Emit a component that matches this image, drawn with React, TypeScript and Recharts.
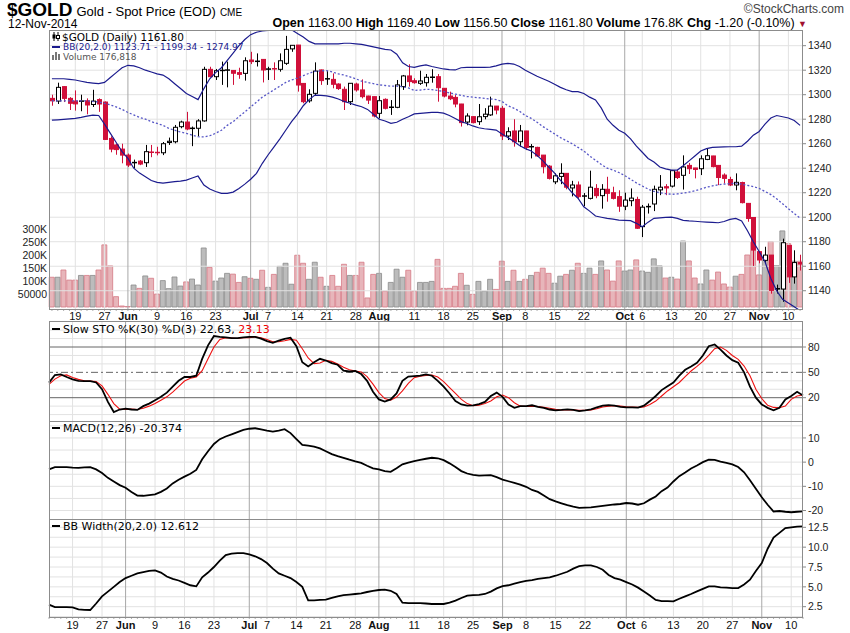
import React from 'react';
import { ComposedChart, Bar, Line, XAxis, YAxis, ReferenceLine, Cell } from 'recharts';

// trading days shown (US holidays skipped)
const mayDays = [13, 14, 15, 16, 19, 20, 21, 22, 23, 27, 28, 29, 30];
const junDays = [2, 3, 4, 5, 6, 9, 10, 11, 12, 13, 16, 17, 18, 19, 20, 23, 24, 25, 26, 27, 30];
const julDays = [1, 2, 3, 7, 8, 9, 10, 11, 14, 15, 16, 17, 18, 21, 22, 23, 24, 25, 28, 29, 30, 31];
const augDays = [1, 4, 5, 6, 7, 8, 11, 12, 13, 14, 15, 18, 19, 20, 21, 22, 25, 26, 27, 28, 29];
const sepDays = [2, 3, 4, 5, 8, 9, 10, 11, 12, 15, 16, 17, 18, 19, 22, 23, 24, 25, 26, 29, 30];
const octDays = [1, 2, 3, 6, 7, 8, 9, 10, 13, 14, 15, 16, 17, 20, 21, 22, 23, 24, 27, 28, 29, 30, 31];
const novDays = [3, 4, 5, 6, 7, 10, 11, 12];

const weekTicks = ['May 19', 'May 27', 'Jun 2', 'Jun 9', 'Jun 16', 'Jun 23', 'Jul 1', 'Jul 7', 'Jul 14', 'Jul 21', 'Jul 28', 'Aug 1', 'Aug 11', 'Aug 18', 'Aug 25', 'Sep 2', 'Sep 8', 'Sep 15', 'Sep 22', 'Oct 1', 'Oct 6', 'Oct 13', 'Oct 20', 'Oct 27', 'Nov 3', 'Nov 10'];
const weekLabels = ['19', '27', 'Jun', '9', '16', '23', 'Jul', '7', '14', '21', '28', 'Aug', '11', '18', '25', 'Sep', '8', '15', '22', 'Oct', '6', '13', '20', '27', 'Nov', '10'];
const monthNames = ['Jun', 'Jul', 'Aug', 'Sep', 'Oct', 'Nov'];

const opens = [1297, 1294.8, 1306.6, 1297, 1294.8, 1295, 1295, 1292, 1296, 1294,
  1264.3, 1259, 1255.6, 1250.7, 1244.5, 1245.8, 1244.5, 1253.5, 1253.2, 1252.6,
  1261, 1261.6, 1273.9, 1277.7, 1272.5, 1272.6, 1278.6, 1320.7, 1314.7, 1319.6,
  1320, 1319.8, 1318, 1317.4, 1328.3, 1327, 1328.8, 1320.8, 1321.6, 1320.7,
  1325.6, 1337.4, 1340.5, 1309.2, 1295, 1301.1, 1320.2, 1312.8, 1312.5, 1308.7,
  1304.4, 1294.3, 1308.7, 1303.9, 1298.9, 1298.4, 1284.8, 1296.2, 1289.7, 1289.7,
  1306.6, 1315.3, 1311.4, 1309.3, 1309.8, 1314.2, 1314.7, 1305.2, 1298.9, 1297.8,
  1292.4, 1277.7, 1282.1, 1278, 1282.1, 1283.5, 1290.7, 1288.9, 1266.3, 1270.4,
  1261.6, 1270.4, 1257.5, 1257, 1250.7, 1241.7, 1228.9, 1233.3, 1235.8, 1223.9,
  1226.3, 1217.6, 1215.4, 1223.5, 1217.6, 1222.8, 1220, 1216.8, 1209, 1213.5,
  1214.5, 1192.3, 1208.5, 1210.8, 1222.3, 1224.9, 1225.4, 1236.9, 1234.2, 1242.3,
  1240.2, 1239.6, 1247.2, 1250, 1242.3, 1234.4, 1230.8, 1226.3, 1228.3, 1211.3,
  1199.8, 1171.9, 1164.8, 1169.1, 1141.6, 1141.4, 1177, 1151.3, 1163];
const highs = [1300, 1309.8, 1307, 1298, 1303.5, 1300, 1297, 1304, 1297, 1294.5,
  1266, 1260, 1260, 1252, 1247, 1246.7, 1259, 1259, 1257.5, 1261.4,
  1265, 1275.3, 1278.8, 1286, 1274, 1280, 1322.8, 1322.8, 1321, 1327,
  1327, 1320, 1322, 1330.5, 1335, 1333.7, 1329, 1322.8, 1326.4, 1333.7,
  1348, 1340.4, 1340.6, 1309.3, 1304.4, 1326.4, 1320.5, 1319.6, 1317.4, 1309.3,
  1306.6, 1309.5, 1309.8, 1312.5, 1299.2, 1298.5, 1298.9, 1297, 1295.6, 1312,
  1316.1, 1324.8, 1313.4, 1319.6, 1316.9, 1320.8, 1316.9, 1305.3, 1302.5, 1299.7,
  1292.5, 1284.8, 1282.3, 1292.4, 1289, 1298.4, 1290.8, 1290.8, 1273.4, 1280,
  1275.3, 1270.5, 1259.7, 1257.5, 1250.8, 1242.5, 1235.8, 1244, 1236, 1229.7,
  1229.2, 1219.7, 1238, 1227, 1227, 1233, 1224.9, 1222, 1220, 1223.5,
  1216.7, 1210, 1211.2, 1225.8, 1234.4, 1227, 1238.6, 1238.6, 1250.5, 1244.3,
  1240.3, 1250.5, 1256.2, 1250.1, 1242.4, 1235.8, 1233, 1235.8, 1229, 1211.4,
  1200, 1172, 1175.9, 1169.2, 1145, 1182.5, 1177.1, 1173, 1169.4];
const lows = [1291, 1292.4, 1294, 1287.5, 1287, 1286.5, 1284, 1290, 1286, 1263,
  1253, 1251, 1244, 1241, 1240, 1242.5, 1241, 1249, 1250.5, 1250.7,
  1259, 1260.3, 1272.6, 1271, 1258, 1266, 1278, 1314.5, 1312, 1308,
  1306, 1308, 1313, 1311.5, 1325, 1323, 1310, 1312, 1312, 1318.8,
  1324.3, 1335, 1302.5, 1293, 1293.5, 1298.9, 1308, 1308, 1305.2, 1303.9,
  1287.5, 1291.6, 1302.5, 1297, 1292.4, 1281.5, 1280.7, 1288, 1283.5, 1289,
  1303.9, 1306.6, 1309, 1308, 1306.6, 1309.8, 1294.3, 1297.8, 1295.6, 1289.7,
  1274, 1275, 1276.6, 1275.3, 1279.9, 1282.7, 1284, 1263, 1263, 1257.6,
  1257.6, 1254.8, 1248, 1249.4, 1235.8, 1230.8, 1227, 1227, 1222.8, 1217,
  1215.4, 1209, 1214.5, 1215.5, 1207, 1212.7, 1214.5, 1204.4, 1205.8, 1209,
  1190.5, 1183.8, 1203, 1205, 1218, 1218, 1224.3, 1231.2, 1222.6, 1235.3,
  1231.7, 1234.4, 1246.6, 1240.7, 1226.2, 1227.5, 1225.4, 1222, 1211.3, 1196.3,
  1160.2, 1162.4, 1162.4, 1137.6, 1137.7, 1131, 1146.4, 1145.8, 1156.5];
const closes = [1295, 1306, 1297, 1293, 1292.5, 1294.5, 1291.6, 1294.8, 1292.4, 1263.5,
  1255.6, 1255.2, 1250.7, 1242.6, 1244.7, 1243.4, 1253.5, 1252.6, 1252.4, 1260,
  1262, 1273.4, 1277.7, 1272, 1272.6, 1278.6, 1320.7, 1314.7, 1319.6, 1320,
  1320.2, 1317.5, 1316.6, 1327.7, 1327, 1327.5, 1320.2, 1321, 1320.7, 1327.7,
  1337, 1340.3, 1307.9, 1294.3, 1300.3, 1319.3, 1311.5, 1313.1, 1308.5, 1305,
  1294.3, 1309.3, 1303.9, 1298.4, 1295.6, 1282.6, 1295.1, 1288.9, 1289.8, 1308,
  1315.3, 1310.7, 1309.8, 1311.2, 1314.2, 1314.3, 1305.7, 1298.9, 1296.7, 1292.4,
  1277.2, 1282.6, 1277.2, 1282, 1284.1, 1290.7, 1287.5, 1266.3, 1269.8, 1261.6,
  1270.4, 1257, 1257.6, 1250, 1241.2, 1231.7, 1233.8, 1235.8, 1224.5, 1226.3,
  1216.8, 1217, 1224.5, 1217.6, 1222.8, 1219.5, 1215.4, 1209, 1214, 1215.6,
  1191, 1208.2, 1208.8, 1222.8, 1224.5, 1223.9, 1238, 1232.4, 1241, 1239.6,
  1239, 1247.7, 1250.2, 1241.3, 1232.4, 1231.7, 1226.3, 1228.5, 1211.9, 1199,
  1173.2, 1165.1, 1169.1, 1140.3, 1141.6, 1179.2, 1151.3, 1163, 1161.8];
// thousands of contracts
const volumesK = [115, 115, 143, 104, 104, 122, 122, 122, 143, 240,
  159, 40, 4, 2, 85, 72, 120, 111, 50, 102,
  71, 116, 81, 97, 108, 85, 228, 153, 100, 112,
  130, 127, 95, 117, 111, 107, 142, 76, 126, 157,
  169, 88, 200, 169, 107, 173, 115, 80, 122, 80,
  165, 122, 122, 173, 35, 126, 130, 61, 95, 146,
  115, 142, 61, 95, 95, 99, 184, 72, 72, 80,
  130, 84, 49, 99, 61, 107, 68, 177, 99, 142,
  99, 107, 122, 134, 150, 130, 92, 119, 126, 142,
  169, 130, 150, 126, 178, 143, 100, 178, 139, 143,
  182, 139, 134, 186, 159, 112, 115, 108, 255, 178,
  112, 89, 143, 104, 135, 89, 77, 119, 126, 201,
  251, 124, 190, 253, 160, 294, 245, 177, 176.818];
const bbUpper = [1313, 1313, 1313, 1312.5, 1312, 1311, 1310, 1309.5, 1309, 1310,
  1314, 1318, 1322, 1324, 1323.5, 1322, 1320, 1318.5, 1317, 1316,
  1313, 1309, 1305, 1301, 1298.5, 1296, 1305, 1313, 1318, 1322,
  1328, 1334, 1340, 1345, 1349, 1351, 1352, 1352.5, 1353, 1353,
  1353, 1353, 1350, 1347, 1343.5, 1341.5, 1341.5, 1341.5, 1341.5, 1341.5,
  1342, 1342, 1341.5, 1341, 1340, 1339, 1338, 1337, 1336.5, 1333,
  1326, 1323, 1322.3, 1323.5, 1324.3, 1323, 1322, 1321, 1320.5, 1320.2,
  1322, 1322.3, 1322.3, 1322.3, 1322.3, 1322.5, 1323.5, 1325, 1325.6, 1325,
  1323, 1320, 1317.5, 1315, 1313, 1311, 1308.5, 1306, 1304, 1302.5,
  1302.5, 1301, 1298, 1295.7, 1289, 1280, 1275, 1271, 1268.5, 1264,
  1258, 1253, 1248, 1245, 1241, 1239.5, 1238.5, 1238.5, 1242, 1246,
  1250, 1254, 1256, 1257, 1257.2, 1257.4, 1257.5, 1257.5, 1258, 1262,
  1267, 1270, 1276, 1281, 1283, 1282, 1281, 1279, 1274.97];
const bbMid = [1295, 1295, 1295, 1295, 1295, 1295, 1295, 1294.5, 1294, 1293,
  1291.6, 1290, 1288, 1285.5, 1283.5, 1281.5, 1280, 1278, 1276.5, 1275,
  1272.5, 1271, 1269.5, 1268.4, 1267, 1265.7, 1265.5, 1266.5, 1268.5, 1271,
  1275, 1278, 1282, 1286, 1290, 1294, 1298, 1301, 1304, 1307,
  1310, 1312, 1313.5, 1315.5, 1317.5, 1319, 1319.5, 1319.6, 1318.5, 1317,
  1316, 1314.5, 1313, 1311, 1310, 1309, 1308, 1307.5, 1307, 1307,
  1306.5, 1305.5, 1303.5, 1303.8, 1304.4, 1304.2, 1303.5, 1302.5, 1301.5, 1300.5,
  1299.5, 1298.5, 1298, 1297.5, 1297, 1296.5, 1296, 1294.5, 1291, 1289,
  1286.5, 1283, 1280.7, 1277.5, 1274, 1271, 1268, 1265, 1262.5, 1260,
  1257, 1254, 1250, 1246.5, 1243, 1240, 1238.5, 1236.5, 1234, 1231,
  1228, 1225.5, 1223, 1221, 1220, 1219.2, 1218.7, 1219, 1219.7, 1220.5,
  1221.5, 1223, 1224.5, 1225.5, 1226.5, 1227, 1227.5, 1227.6, 1227, 1226,
  1225, 1223.5, 1221, 1218.5, 1215, 1211, 1207, 1203, 1199.34];
const bbLower = [1279.3, 1279.5, 1279.8, 1280.2, 1280.7, 1281.5, 1282.5, 1283.4, 1283, 1276,
  1268.4, 1261, 1253.5, 1248, 1240, 1236, 1233, 1230, 1228.5, 1227.8,
  1228.5, 1229, 1229.5, 1230.3, 1232, 1233.6, 1226.3, 1223, 1221, 1219.5,
  1219.5, 1220.5, 1223.5, 1227, 1231, 1235.8, 1244, 1251, 1257.5, 1264,
  1271, 1278, 1284, 1291, 1296, 1299.7, 1299.5, 1299, 1298, 1296.5,
  1294.5, 1293, 1291.5, 1290.2, 1288, 1284, 1280, 1278.5, 1276.6, 1277.5,
  1280, 1282, 1284.3, 1284.8, 1285.2, 1285.6, 1285.5, 1285, 1283, 1280.5,
  1278, 1276.5, 1274.5, 1273, 1272.2, 1271.7, 1271.1, 1268, 1265, 1262,
  1258.5, 1256, 1254, 1250.5, 1246, 1241, 1236, 1230, 1225.5, 1220,
  1215.5, 1208.5, 1205, 1201, 1200, 1199, 1198.5, 1197.7, 1197.5, 1197.2,
  1195, 1192.3, 1196, 1199.1, 1199.5, 1199.8, 1200, 1199, 1197.5, 1197,
  1196.7, 1196.3, 1196, 1195.8, 1195.5, 1196.5, 1198.2, 1199.1, 1197, 1189,
  1180, 1172, 1163.7, 1150, 1140, 1133, 1130, 1127, 1123.71];
const stoK = [37.8, 46.8, 47.6, 44.5, 41.7, 40, 39.7, 39.7, 38, 30,
  15, 3, 6, 7, 6, 5.5, 10, 13, 17, 21,
  26, 33, 40, 44.5, 44.5, 46, 66, 82, 93, 92,
  91.5, 90.5, 90.5, 91.5, 92, 92, 90, 87, 85, 87.5,
  89.5, 91, 81, 62, 57, 62, 66, 64, 61, 59,
  52, 51, 51.6, 48, 40, 27, 18, 15.5, 18, 25,
  40, 45, 45.5, 46, 47.5, 46, 40, 33, 25, 16,
  12, 10.5, 11, 12.5, 15, 22, 26, 21, 12, 8,
  10, 10, 11, 9, 8, 6, 5, 5.5, 6.2, 5.5,
  4.2, 5, 6.2, 8.5, 10.5, 11.3, 10.5, 9, 8.5, 8.5,
  8.2, 10.5, 16, 22, 29, 33.5, 38, 46, 53, 57,
  61.4, 70, 81, 83, 77, 70, 64.5, 61.4, 50, 33,
  20, 12, 8, 5, 8, 18, 22, 27, 22.63];
const stoD = [35.8, 42, 46, 47, 44, 41.7, 40, 39.7, 39, 34,
  24, 13, 6.5, 6, 6.5, 6, 7.5, 10, 13, 17,
  21, 26.5, 33, 39.7, 43, 44.5, 52, 66, 80, 89,
  91, 90.5, 90, 91, 91, 92, 91, 89, 86.3, 86.3,
  87.5, 89, 88, 78, 67, 60.3, 61, 64.2, 63, 60,
  56, 53, 51.6, 50.5, 45, 36, 26, 19, 17, 20.8,
  28, 37, 43.7, 45.5, 46.3, 46.8, 44.5, 39, 32, 25,
  18, 13, 10.5, 11, 13, 16, 21, 23.1, 20, 14,
  10, 9.5, 10, 9.5, 8.5, 7.5, 6.2, 5.5, 5.5, 5.8,
  5, 5, 5.5, 7, 8.9, 10, 10.5, 10, 9.3, 8.9,
  8.5, 9, 12, 16, 22, 28, 33, 38, 45, 51.6,
  57, 63, 70, 78, 80, 76, 70, 65.4, 57.5, 46,
  30, 19, 11, 8.5, 8.1, 10, 18, 22, 23.13];
const macdLine = [-3, -2.1, -2.1, -2.1, -2.3, -2.4, -2.2, -2.1, -3, -4.5,
  -6.5, -8, -9.5, -10.6, -12.3, -13.8, -13.9, -13.6, -13.3, -12.3,
  -10.9, -8.8, -7.3, -6, -4.8, -3.2, 1.2, 4.5, 7.5, 9.5,
  10.6, 11.5, 12.4, 13.3, 13.8, 14, 13.5, 13, 12.6, 13,
  13.6, 12, 9.5, 7.1, 6.8, 6.4, 5.7, 4.5, 3.3, 2.5,
  1.8, 1, 0.3, -0.3, -1.5, -2.6, -3, -3.7, -4, -2.5,
  -0.9, -0.2, 0.4, 0.9, 1.4, 1.8, 1.6, 0.8, -0.5, -2,
  -3.7, -4.7, -5.3, -5.6, -5.5, -5.4, -6.2, -7.2, -7.9, -8.6,
  -9.3, -10.2, -11.5, -12.3, -13.8, -15.3, -16.2, -17, -17.8, -18.4,
  -18.9, -18.8, -18.7, -18.4, -18.1, -17.8, -17.5, -17.3, -16.9, -17.1,
  -17.6, -17, -15.5, -14.2, -12, -10.5, -8, -5.8, -4.3, -2.6,
  -1.4, 0, 1, 0.9, 0.2, -0.3, -0.9, -2, -4.2, -7.5,
  -11, -14.5, -17.6, -20.4, -20.2, -20.5, -20.7, -20.5, -20.374];
const bbWidth = [2.75, 2.45, 2.45, 2.45, 2.42, 2.15, 2.1, 2.08, 2.9, 3.8,
  4.4, 5, 5.6, 6.1, 6.4, 6.7, 6.85, 7, 7.08, 6.8,
  6.3, 6, 5.8, 5.5, 5.2, 5.06, 6.2, 6.8, 7.5, 8.3,
  9, 9.2, 9.26, 9.26, 9.1, 8.85, 8.5, 8, 7.3, 6.7,
  6.4, 6.1, 5.6, 5, 3.3, 3.3, 3.35, 3.4, 3.6, 3.8,
  3.95, 4.02, 4.1, 4.18, 4.35, 4.5, 4.6, 4.64, 4.5, 4.1,
  3, 2.96, 2.96, 2.96, 2.9, 2.84, 2.84, 2.84, 3, 3.26,
  3.6, 3.9, 3.95, 4, 4.1, 4.4, 4.8, 5.1, 5.2, 5.4,
  5.6, 5.75, 5.85, 6, 6.1, 6.2, 6.4, 6.65, 6.9, 7.3,
  7.6, 7.7, 7.71, 7.5, 7.16, 6.5, 6.1, 5.9, 5.6, 5.3,
  4.9, 4.4, 3.9, 3.35, 3.2, 3.2, 3.17, 3.5, 3.8, 4.1,
  4.43, 4.75, 5.06, 5.05, 4.94, 4.9, 4.85, 4.85, 5.3, 5.9,
  7, 8, 9.8, 11.2, 11.8, 12.4, 12.5, 12.58, 12.612];

const priceTicks = [1140, 1160, 1180, 1200, 1220, 1240, 1260, 1280, 1300, 1320, 1340];
const volumeTicks = [50000, 100000, 150000, 200000, 250000, 300000];
const stoTicks = [20, 50, 80];
const stoGrid = [0, 10, 30, 40, 60, 70, 90, 100];
const macdTicks = [-20, -10, 0, 10];
const macdGrid = [-20, -15, -10, -5, 0, 5, 10, 15];
const bbwTicks = [2.5, 5, 7.5, 10, 12.5];
const bbwGrid = [1.25, 2.5, 3.75, 5, 6.25, 7.5, 8.75, 10, 11.25, 12.5];

const RED = '#d0103a';
const NAVY = '#1b1b8e';
const SANS = "'Liberation Sans', Arial, sans-serif";
const NARROW = "'Liberation Sans Narrow', 'Liberation Sans', Arial, sans-serif";
const VERD = "'DejaVu Sans', Verdana, sans-serif";
const GRID = '#e2e2e2';

const dates = [
  ...mayDays.map((d) => `May ${d}`),
  ...junDays.map((d) => `Jun ${d}`),
  ...julDays.map((d) => `Jul ${d}`),
  ...augDays.map((d) => `Aug ${d}`),
  ...sepDays.map((d) => `Sep ${d}`),
  ...octDays.map((d) => `Oct ${d}`),
  ...novDays.map((d) => `Nov ${d}`),
];

const rows = dates.map((date, i) => ({
  date,
  open: opens[i],
  high: highs[i],
  low: lows[i],
  close: closes[i],
  range: [lows[i], highs[i]],
  down: closes[i] < (i === 0 ? opens[i] : closes[i - 1]),
  volume: volumesK[i] * 1000,
  bbU: bbUpper[i],
  bbM: bbMid[i],
  bbL: bbLower[i],
  k: stoK[i],
  d: stoD[i],
  macd: macdLine[i],
  bbw: bbWidth[i],
}));

const isMonth = (t: string) => monthNames.includes(weekLabels[weekTicks.indexOf(t)]);

const Candle = (props: any) => {
  const { x, y, width, height, payload } = props;
  if (!payload) return null;
  const top = Math.min(y, y + height);
  const bottom = Math.max(y, y + height);
  const span = payload.high - payload.low;
  const k = span > 0 ? (bottom - top) / span : 0;
  const yo = top + (payload.high - payload.open) * k;
  const yc = top + (payload.high - payload.close) * k;
  const cx = Math.round(x + width / 2) + 0.5;
  const color = payload.down ? RED : '#000';
  const bTop = Math.min(yo, yc);
  const bBot = Math.max(yo, yc);
  return (
    <g>
      <line x1={cx} x2={cx} y1={top} y2={bottom} stroke={color} strokeWidth={1} />
      {bBot - bTop < 1.2 ? (
        <line x1={cx - 2.5} x2={cx + 2.5} y1={(bTop + bBot) / 2} y2={(bTop + bBot) / 2} stroke={color} strokeWidth={1.5} />
      ) : (
        <rect x={cx - 2} y={bTop} width={4} height={bBot - bTop}
          fill={payload.close > payload.open ? '#fff' : color} stroke={color} strokeWidth={1} />
      )}
    </g>
  );
};

const DateTick = (props: any) => {
  const { x, y, payload, base } = props;
  const idx = weekTicks.indexOf(payload.value);
  const label = idx >= 0 ? weekLabels[idx] : null;
  return (
    <g>
      <line x1={x} x2={x} y1={y} y2={y + 2} stroke="#999" strokeWidth={0.8} />
      {label && (
        <text x={x} y={y + base} textAnchor="middle" fontSize={11} fontFamily={SANS}
          fontWeight={monthNames.includes(label) ? 'bold' : 'normal'} fill="#111">
          {label}
        </text>
      )}
    </g>
  );
};

const vLines = (axisId?: string) =>
  weekTicks.map((t) => (
    <ReferenceLine key={'v' + t} x={t} yAxisId={axisId ?? 0}
      stroke={isMonth(t) ? '#a8a8a8' : GRID} strokeWidth={1} />
  ));

const hLines = (vals: number[], axisId?: string, color = GRID) =>
  vals.map((v) => (
    <ReferenceLine key={'h' + v} y={v} yAxisId={axisId ?? 0} stroke={color} strokeWidth={1} />
  ));

const rightTick = { fontSize: 10.5, fill: '#222', fontFamily: SANS };

const Frame = ({ top, height }: { top: number; height: number }) => (
  <div style={{ position: 'absolute', left: 49, top, width: 754, height, border: '1px solid #8c8c8c', boxSizing: 'border-box', pointerEvents: 'none' }} />
);

const Dash = ({ color = '#000' }: { color?: string }) => (
  <span style={{ display: 'inline-block', width: 8, height: 2, background: color, verticalAlign: 'middle', marginRight: 3, position: 'relative', top: -1 }} />
);

const priceDomain = [1125.1, 1352.8];

export default function App() {
  return (
    <div style={{ position: 'absolute', left: 0, top: 0, width: 850, height: 633, background: '#fff', overflow: 'hidden' }}>
      {/* header */}
      <div style={{ position: 'absolute', left: 7, top: 0, fontFamily: NARROW, whiteSpace: 'nowrap', lineHeight: '19px', height: 19 }}>
        <span style={{ fontSize: 19, fontWeight: 'bold' }}>$GOLD</span>
        <span style={{ fontSize: 13, marginLeft: 4 }}>Gold - Spot Price (EOD)</span>
        <span style={{ fontSize: 10, marginLeft: 4 }}>CME</span>
      </div>
      <div style={{ position: 'absolute', left: 8, top: 18, fontFamily: NARROW, fontSize: 12, lineHeight: '12px' }}>12-Nov-2014</div>
      <div style={{ position: 'absolute', right: 6, top: 3, fontFamily: SANS, fontSize: 12, color: '#444', lineHeight: '13px' }}>©StockCharts.com</div>
      <div style={{ position: 'absolute', right: 43, top: 17, fontFamily: NARROW, fontSize: 12.5, whiteSpace: 'nowrap', lineHeight: '13px' }}>
        <b>Open</b> 1163.00 <b>High</b> 1169.40 <b>Low</b> 1156.50 <b>Close</b> 1161.80 <b>Volume</b> 176.8K <b>Chg</b> -1.20 (-0.10%) <span style={{ color: '#a01030', fontSize: 9 }}>▼</span>
      </div>

      {/* volume layer */}
      <div style={{ position: 'absolute', left: 0, top: 30 }}>
        <ComposedChart width={850} height={291} data={rows} margin={{ top: 0, right: 47, bottom: 12, left: 0 }} barCategoryGap="4%">
          <XAxis dataKey="date" hide />
          <YAxis yAxisId="v" orientation="left" width={49} domain={[-7700, 1070000]} allowDataOverflow
            ticks={volumeTicks} interval={0} tickFormatter={(v: number) => (v === 50000 ? '50000' : `${v / 1000}K`)}
            axisLine={false} tickLine={false} tickSize={0} tickMargin={2} tick={rightTick} />
          <YAxis yAxisId="p" orientation="right" hide domain={priceDomain} allowDataOverflow />
          {hLines(priceTicks, 'p')}
          {vLines('p')}
          <Bar yAxisId="v" dataKey="volume" isAnimationActive={false}>
            {rows.map((r) => (
              <Cell key={r.date} fill={r.down ? '#e7b5ba' : '#bcbcbc'} stroke={r.down ? '#d57a85' : '#8a8a8a'} strokeWidth={0.8} />
            ))}
          </Bar>
        </ComposedChart>
      </div>

      {/* price layer */}
      <div style={{ position: 'absolute', left: 0, top: 30 }}>
        <ComposedChart width={850} height={291} data={rows} margin={{ top: 0, right: 0, bottom: 0, left: 49 }}>
          <XAxis dataKey="date" height={12} interval={0} tickSize={0} tickMargin={0} axisLine={false} tickLine={false}
            tick={<DateTick base={10.5} />} />
          <YAxis orientation="right" width={47} domain={priceDomain} allowDataOverflow ticks={priceTicks}
            axisLine={false} tickSize={3} tickMargin={2} tickLine={{ stroke: '#888' }} tick={rightTick} />
          <Line dataKey="bbU" stroke={NAVY} strokeWidth={1.2} dot={false} isAnimationActive={false} />
          <Line dataKey="bbM" stroke="#5656c6" strokeWidth={1.3} strokeDasharray="2 2" dot={false} isAnimationActive={false} />
          <Line dataKey="bbL" stroke={NAVY} strokeWidth={1.2} dot={false} isAnimationActive={false} />
          <Bar dataKey="range" shape={<Candle />} isAnimationActive={false} />
        </ComposedChart>
      </div>
      <Frame top={30} height={280} />
      <div style={{ position: 'absolute', left: 52, top: 32, fontFamily: VERD, whiteSpace: 'nowrap', lineHeight: 1 }}>
        <div style={{ fontSize: 10.5, height: 10 }}>
          <svg width="8" height="9" style={{ marginRight: 2, verticalAlign: 'baseline' }}>
            <line x1="2" x2="2" y1="0" y2="9" stroke="#000" />
            <rect x="0.5" y="2.5" width="3" height="4" fill="#000" />
            <line x1="6" x2="6" y1="0" y2="9" stroke="#000" />
            <rect x="4.5" y="3.5" width="3" height="3" fill="#fff" stroke="#000" />
          </svg>
          $GOLD (Daily) 1161.80
        </div>
        <div style={{ fontSize: 9, color: NAVY, height: 9, marginTop: 1 }}><Dash color={NAVY} />BB(20,2.0) 1123.71 - 1199.34 - 1274.97</div>
        <div style={{ fontSize: 9, color: '#555', height: 9 }}>
          <svg width="9" height="8" style={{ marginRight: 2 }}>
            <rect x="0" y="3" width="2" height="5" fill="#777" />
            <rect x="3" y="0" width="2" height="8" fill="#777" />
            <rect x="6" y="2" width="2" height="6" fill="#777" />
          </svg>
          Volume 176,818
        </div>
      </div>

      {/* Slow STO */}
      <div style={{ position: 'absolute', left: 0, top: 321 }}>
        <ComposedChart width={850} height={100} data={rows} margin={{ top: 0, right: 0, bottom: 0, left: 49 }}>
          <XAxis dataKey="date" hide />
          <YAxis orientation="right" width={47} domain={[-7.6, 110.8]} allowDataOverflow ticks={stoTicks}
            axisLine={false} tickSize={3} tickMargin={2} tickLine={{ stroke: '#888' }} tick={rightTick} />
          {hLines(stoGrid)}
          {vLines()}
          <ReferenceLine y={80} stroke="#666" strokeWidth={1} />
          <ReferenceLine y={20} stroke="#666" strokeWidth={1} />
          <ReferenceLine y={50} stroke="#666" strokeWidth={1} strokeDasharray="7 3 2 3" />
          <Line dataKey="d" stroke="#ee1111" strokeWidth={1.1} dot={false} isAnimationActive={false} />
          <Line dataKey="k" stroke="#000" strokeWidth={1.8} dot={false} isAnimationActive={false} />
        </ComposedChart>
      </div>
      <Frame top={321} height={101} />
      <div style={{ position: 'absolute', left: 52, top: 324, fontFamily: VERD, fontSize: 11, whiteSpace: 'nowrap', lineHeight: 1 }}>
        <Dash />Slow STO %K(30) %D(3) 22.63, <span style={{ color: '#e00' }}>23.13</span>
      </div>

      {/* MACD */}
      <div style={{ position: 'absolute', left: 0, top: 421 }}>
        <ComposedChart width={850} height={98} data={rows} margin={{ top: 0, right: 0, bottom: 0, left: 49 }}>
          <XAxis dataKey="date" hide />
          <YAxis orientation="right" width={47} domain={[-23.5, 17]} allowDataOverflow ticks={macdTicks}
            axisLine={false} tickSize={3} tickMargin={2} tickLine={{ stroke: '#888' }} tick={rightTick} />
          {hLines(macdGrid)}
          {vLines()}
          <Line dataKey="macd" stroke="#000" strokeWidth={1.8} dot={false} isAnimationActive={false} />
        </ComposedChart>
      </div>
      <Frame top={421} height={99} />
      <div style={{ position: 'absolute', left: 52, top: 423, fontFamily: VERD, fontSize: 11, whiteSpace: 'nowrap', lineHeight: 1 }}>
        <Dash />MACD(12,26) -20.374
      </div>

      {/* BB Width */}
      <div style={{ position: 'absolute', left: 0, top: 519 }}>
        <ComposedChart width={850} height={114} data={rows} margin={{ top: 0, right: 0, bottom: 0, left: 49 }}>
          <XAxis dataKey="date" height={16} interval={0} tickSize={0} tickMargin={0} axisLine={false} tickLine={false}
            tick={<DateTick base={12} />} />
          <YAxis orientation="right" width={47} domain={[1.2, 13.55]} allowDataOverflow ticks={bbwTicks}
            tickFormatter={(v: number) => v.toFixed(1)}
            axisLine={false} tickSize={3} tickMargin={2} tickLine={{ stroke: '#888' }} tick={rightTick} />
          {hLines(bbwGrid)}
          {vLines()}
          <Line dataKey="bbw" stroke="#000" strokeWidth={1.8} dot={false} isAnimationActive={false} />
        </ComposedChart>
      </div>
      <Frame top={519} height={99} />
      <div style={{ position: 'absolute', left: 52, top: 521, fontFamily: VERD, fontSize: 11, whiteSpace: 'nowrap', lineHeight: 1 }}>
        <Dash />BB Width(20,2.0) 12.612
      </div>
    </div>
  );
}
